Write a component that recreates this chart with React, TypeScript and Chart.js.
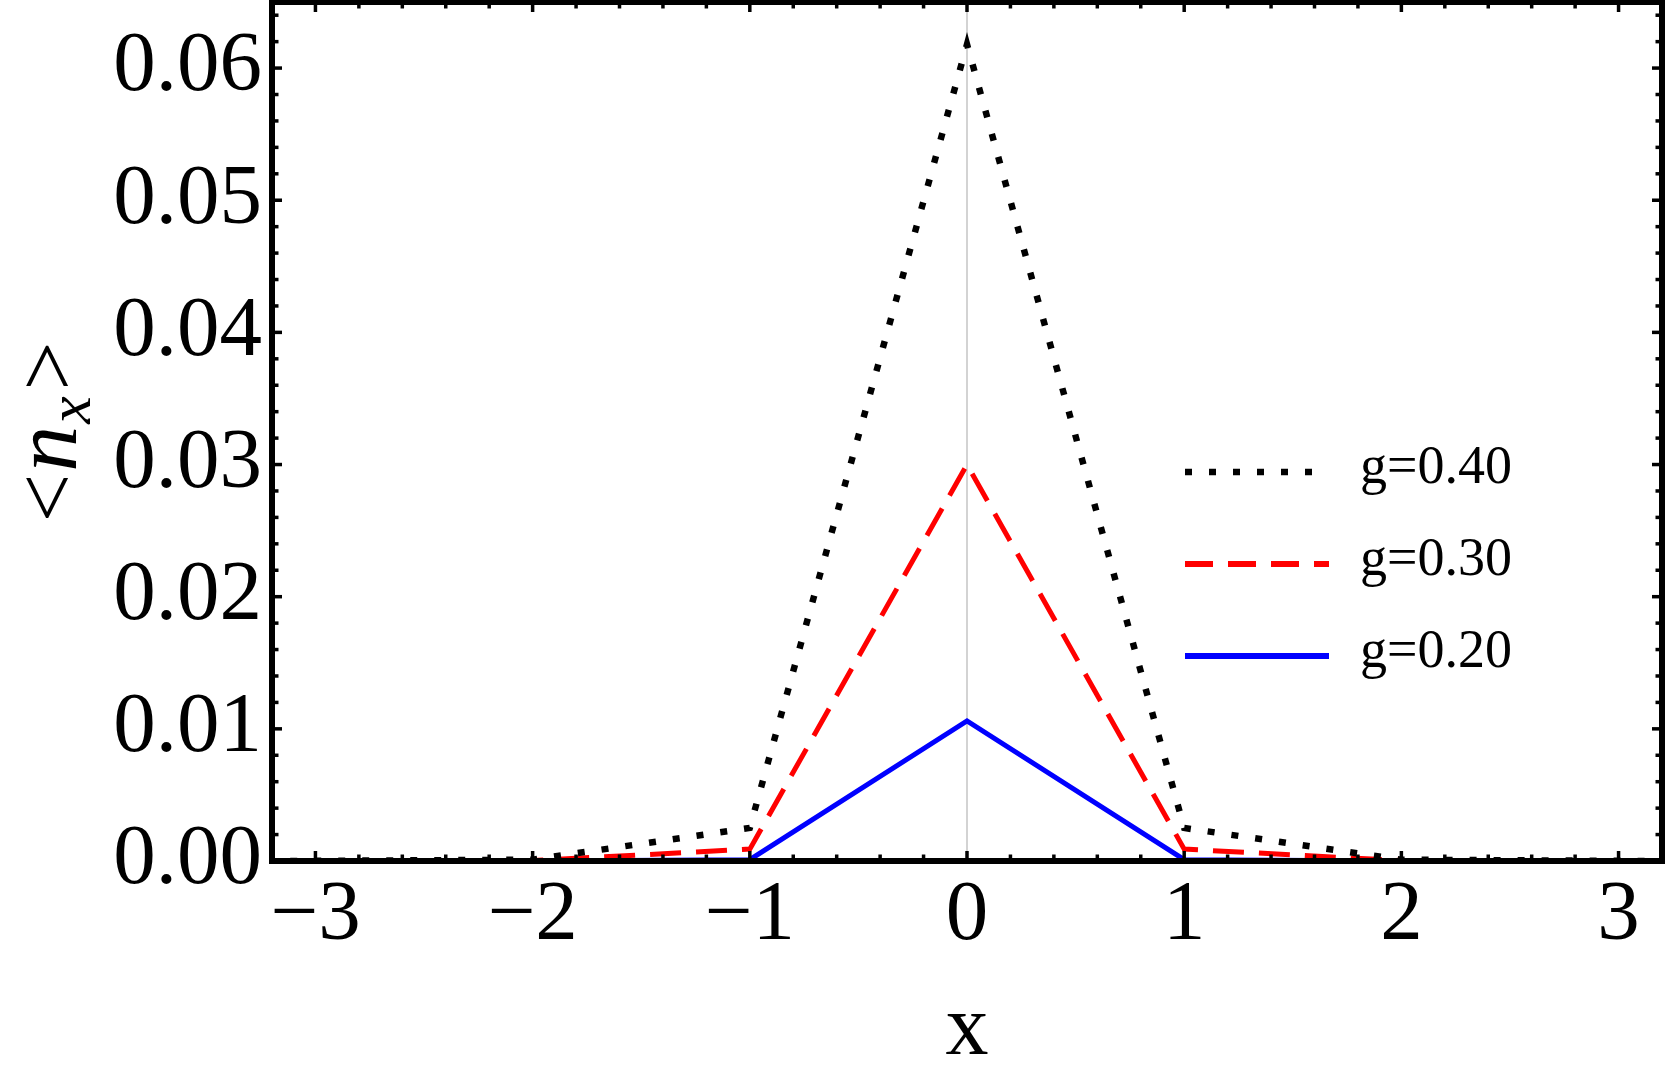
import { useEffect, useRef } from "react";
import { Chart, registerables } from "chart.js";

Chart.register(...registerables);

// ---- data ----
const xSites = [-4, -3, -2, -1, 0, 1, 2, 3, 4];
const nG040 = [0, 0.00001, 0.0001, 0.0025, 0.0618, 0.0025, 0.0001, 0.00001, 0];
const nG030 = [0, 0.000002, 0.00003, 0.0009, 0.03, 0.0009, 0.00003, 0.000002, 0];
const nG020 = [0, 0, 0.000002, 0.0001, 0.0106, 0.0001, 0.000002, 0, 0];
const seriesLabels = ["g=0.40", "g=0.30", "g=0.20"];

const xTickValues = [-3, -2, -1, 0, 1, 2, 3];
const xTickLabels = ["−3", "−2", "−1", "0", "1", "2", "3"];
const yTickValues = [0, 0.01, 0.02, 0.03, 0.04, 0.05, 0.06];
const yTickLabels = ["0.00", "0.01", "0.02", "0.03", "0.04", "0.05", "0.06"];
const xMin = -3.2;
const xMax = 3.2;
const yMin = 0;
const yMax = 0.065;
const xMinorStep = 0.2;
const yMinorStep = 0.002;

const SERIF = '"Liberation Serif", "Times New Roman", serif';

const toPoints = (ys: number[]) => xSites.map((x, i) => ({ x, y: ys[i] }));

const zeroLinePlugin = {
  id: "zeroLine",
  beforeDatasetsDraw(chart: any) {
    const { ctx, chartArea, scales } = chart;
    const px = scales.x.getPixelForValue(0);
    ctx.save();
    ctx.strokeStyle = "#c4c4c4";
    ctx.lineWidth = 1.5;
    ctx.beginPath();
    ctx.moveTo(px, chartArea.top);
    ctx.lineTo(px, chartArea.bottom);
    ctx.stroke();
    ctx.restore();
  },
};

const framePlugin = {
  id: "frame",
  afterDraw(chart: any) {
    const { ctx, chartArea, scales } = chart;
    const { left, right, top, bottom } = chartArea;
    ctx.save();
    ctx.strokeStyle = "#000";
    ctx.lineCap = "butt";
    ctx.lineWidth = 3.5;
    const seg = (x1: number, y1: number, x2: number, y2: number) => {
      ctx.beginPath();
      ctx.moveTo(x1, y1);
      ctx.lineTo(x2, y2);
      ctx.stroke();
    };
    // x ticks (bottom + top), inward
    const nx0 = Math.ceil(xMin / xMinorStep - 1e-9);
    const nx1 = Math.floor(xMax / xMinorStep + 1e-9);
    for (let i = nx0; i <= nx1; i++) {
      const v = i * xMinorStep;
      const px = scales.x.getPixelForValue(v);
      if (px < left + 3 || px > right - 3) continue;
      const major = i % 5 === 0;
      const len = major ? 10 : 6.5;
      seg(px, bottom, px, bottom - len);
      seg(px, top, px, top + len);
    }
    // y ticks (left + right), inward
    const ny1 = Math.floor(yMax / yMinorStep + 1e-9);
    for (let i = 0; i <= ny1; i++) {
      const v = i * yMinorStep;
      const py = scales.y.getPixelForValue(v);
      if (py < top + 3 || py > bottom - 3) continue;
      const major = i % 5 === 0;
      const len = major ? 10 : 6.5;
      seg(left, py, left + len, py);
      seg(right, py, right - len, py);
    }
    // frame
    ctx.lineWidth = 6;
    ctx.lineJoin = "miter";
    ctx.strokeRect(left, top, right - left, bottom - top);
    ctx.restore();
  },
};

const yTitlePlugin = {
  id: "yTitle",
  afterDraw(chart: any) {
    const { ctx } = chart;
    const pieces = [
      { t: "<", font: `86px ${SERIF}`, dy: 0, gapAfter: 2 },
      { t: "n", font: `italic 92px ${SERIF}`, dy: 0, gapAfter: 2 },
      { t: "x", font: `italic 62px ${SERIF}`, dy: 14, gapAfter: 6 },
      { t: ">", font: `86px ${SERIF}`, dy: 0, gapAfter: 0 },
    ];
    ctx.save();
    let total = 0;
    const widths = pieces.map((p) => {
      ctx.font = p.font;
      const w = ctx.measureText(p.t).width;
      total += w + p.gapAfter;
      return w;
    });
    ctx.translate(76, 432);
    ctx.rotate(-Math.PI / 2);
    ctx.fillStyle = "#000";
    ctx.textBaseline = "alphabetic";
    ctx.textAlign = "left";
    let u = -total / 2;
    pieces.forEach((p, i) => {
      ctx.font = p.font;
      ctx.fillText(p.t, u, p.dy);
      u += widths[i] + p.gapAfter;
    });
    ctx.restore();
  },
};

const legendPlugin = {
  id: "customLegend",
  afterDraw(chart: any) {
    const { ctx } = chart;
    const order = [0, 1, 2];
    ctx.save();
    order.forEach((di, row) => {
      const ds = chart.data.datasets[di];
      const ly = 472 + row * 92;
      ctx.strokeStyle = ds.borderColor;
      ctx.lineWidth = ds.legendLineWidth;
      ctx.lineCap = "butt";
      ctx.setLineDash(ds.legendDash || []);
      ctx.beginPath();
      ctx.moveTo(1185, ly);
      ctx.lineTo(1329, ly);
      ctx.stroke();
      ctx.setLineDash([]);
      ctx.fillStyle = "#000";
      ctx.font = `54px ${SERIF}`;
      ctx.textAlign = "left";
      ctx.textBaseline = "alphabetic";
      ctx.fillText(ds.label, 1360, ly + 11);
    });
    ctx.restore();
  },
};

export default function App() {
  const canvasRef = useRef<HTMLCanvasElement | null>(null);

  useEffect(() => {
    const canvas = canvasRef.current;
    if (!canvas) return;
    const tickFont = { family: SERIF, size: 85, lineHeight: 1.2 };
    const chart = new Chart(canvas, {
      type: "line",
      data: {
        datasets: [
          {
            label: seriesLabels[0],
            data: toPoints(nG040),
            borderColor: "#000000",
            borderWidth: 6.5,
            borderDash: [7, 17],
            borderCapStyle: "butt",
            pointRadius: 0,
            tension: 0,
            fill: false,
            legendLineWidth: 6.5,
            legendDash: [7, 17],
          } as any,
          {
            label: seriesLabels[1],
            data: toPoints(nG030),
            borderColor: "#ff0000",
            borderWidth: 5,
            borderDash: [31, 15],
            borderCapStyle: "butt",
            pointRadius: 0,
            tension: 0,
            fill: false,
            legendLineWidth: 6,
            legendDash: [28, 15],
          } as any,
          {
            label: seriesLabels[2],
            data: toPoints(nG020),
            borderColor: "#0000ff",
            borderWidth: 5,
            pointRadius: 0,
            tension: 0,
            fill: false,
            legendLineWidth: 6,
            legendDash: [],
          } as any,
        ],
      },
      options: {
        responsive: false,
        animation: false,
        devicePixelRatio: 1,
        layout: { padding: { left: 0, right: 5, top: 2, bottom: 0 } },
        plugins: {
          legend: { display: false },
          tooltip: { enabled: false },
        },
        scales: {
          x: {
            type: "linear",
            min: xMin,
            max: xMax,
            afterBuildTicks: (scale: any) => {
              scale.ticks = xTickValues.map((v) => ({ value: v }));
            },
            afterFit: (scale: any) => {
              scale.height = 219;
              scale.paddingLeft = 0;
              scale.paddingRight = 0;
            },
            ticks: {
              callback: (value: any) => {
                const i = xTickValues.indexOf(Number(value));
                return i >= 0 ? xTickLabels[i] : "";
              },
              font: tickFont,
              color: "#000",
              padding: 5,
              maxRotation: 0,
              minRotation: 0,
              autoSkip: false,
            },
            grid: { display: false, drawTicks: false },
            border: { display: false },
            title: {
              display: true,
              text: "x",
              color: "#000",
              font: { family: SERIF, size: 86, lineHeight: 1 },
              padding: { top: 0, bottom: 6 },
            },
          },
          y: {
            type: "linear",
            min: yMin,
            max: yMax,
            afterBuildTicks: (scale: any) => {
              scale.ticks = yTickValues.map((v) => ({ value: v }));
            },
            afterFit: (scale: any) => {
              scale.width = 272;
              scale.paddingTop = 0;
              scale.paddingBottom = 0;
            },
            ticks: {
              callback: (value: any) => {
                const i = yTickValues.indexOf(Number(value));
                return i >= 0 ? yTickLabels[i] : "";
              },
              font: tickFont,
              color: "#000",
              padding: 10,
              autoSkip: false,
            },
            grid: { display: false, drawTicks: false },
            border: { display: false },
          },
        },
      } as any,
      plugins: [zeroLinePlugin, framePlugin, yTitlePlugin, legendPlugin],
    });
    return () => chart.destroy();
  }, []);

  return (
    <div
      style={{
        position: "fixed",
        left: 0,
        top: 0,
        width: 1667,
        height: 1080,
        background: "#fff",
      }}
    >
      <canvas
        ref={canvasRef}
        width={1667}
        height={1080}
        style={{ display: "block", width: 1667, height: 1080 }}
      />
    </div>
  );
}
